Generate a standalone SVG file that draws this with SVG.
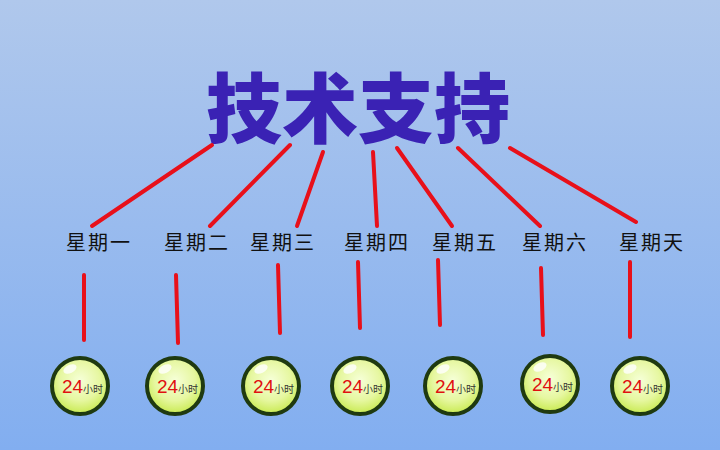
<svg xmlns="http://www.w3.org/2000/svg" width="720" height="450" viewBox="0 0 720 450">
<defs>
<linearGradient id="bg" x1="0" y1="0" x2="0" y2="1"><stop offset="0" stop-color="#b0c8ec"/><stop offset="1" stop-color="#82aef0"/></linearGradient>
<radialGradient id="ball" cx="0.5" cy="0.4" r="0.6"><stop offset="0" stop-color="#f6ffd8"/><stop offset="0.6" stop-color="#e6f7a0"/><stop offset="1" stop-color="#c8ea50"/></radialGradient>
<style>
.ln{stroke:#e8101a;stroke-width:4;stroke-linecap:round;fill:none}
.day{font-family:"Noto Sans CJK SC",sans-serif;font-size:20px;fill:#111;text-anchor:middle;letter-spacing:2px}
.b circle.o{fill:url(#ball);stroke:#1f3a10;stroke-width:4}
.n{font-family:"Liberation Sans",sans-serif;font-size:19px;fill:#e01010}
.h{font-family:"Noto Sans CJK SC",sans-serif;font-size:10px;fill:#333}
</style>
</defs>
<rect width="720" height="450" fill="url(#bg)"/>
<g id="title"><text x="358" y="137" text-anchor="middle" font-family="Noto Sans CJK SC,sans-serif" font-weight="900" font-size="76" fill="#3a22b4">技术支持</text></g>
<g id="connectors">
<line class="ln" x1="212" y1="145" x2="92" y2="226"/>
<line class="ln" x1="290" y1="145" x2="210" y2="226"/>
<line class="ln" x1="323" y1="152" x2="297" y2="226"/>
<line class="ln" x1="373" y1="152" x2="377" y2="226"/>
<line class="ln" x1="397" y1="148" x2="452" y2="226"/>
<line class="ln" x1="458" y1="148" x2="540" y2="226"/>
<line class="ln" x1="510" y1="148" x2="636" y2="222"/>
<line class="ln" x1="84" y1="275" x2="84" y2="340"/>
<line class="ln" x1="176" y1="275" x2="178" y2="343"/>
<line class="ln" x1="278" y1="265" x2="280" y2="333"/>
<line class="ln" x1="358" y1="262" x2="360" y2="328"/>
<line class="ln" x1="438" y1="260" x2="440" y2="325"/>
<line class="ln" x1="541" y1="268" x2="543" y2="335"/>
<line class="ln" x1="630" y1="262" x2="630" y2="337"/>
</g>
<g id="days">
<text class="day" x="99" y="250">星期一</text>
<text class="day" x="197" y="250">星期二</text>
<text class="day" x="283" y="250">星期三</text>
<text class="day" x="377" y="250">星期四</text>
<text class="day" x="465" y="250">星期五</text>
<text class="day" x="555" y="250">星期六</text>
<text class="day" x="652" y="250">星期天</text>
</g>
<g id="ball1" class="b" transform="translate(80,386)"><circle class="o" r="28"/><ellipse cx="-10" cy="-17" rx="7" ry="4" fill="#fff" opacity="0.8" transform="rotate(-25 -10 -17)"/><text class="n" x="-18" y="7">24</text><text class="h" x="3" y="7">小时</text></g>
<g id="ball2" class="b" transform="translate(175,386)"><circle class="o" r="28"/><ellipse cx="-10" cy="-17" rx="7" ry="4" fill="#fff" opacity="0.8" transform="rotate(-25 -10 -17)"/><text class="n" x="-18" y="7">24</text><text class="h" x="3" y="7">小时</text></g>
<g id="ball3" class="b" transform="translate(271,386)"><circle class="o" r="28"/><ellipse cx="-10" cy="-17" rx="7" ry="4" fill="#fff" opacity="0.8" transform="rotate(-25 -10 -17)"/><text class="n" x="-18" y="7">24</text><text class="h" x="3" y="7">小时</text></g>
<g id="ball4" class="b" transform="translate(360,386)"><circle class="o" r="28"/><ellipse cx="-10" cy="-17" rx="7" ry="4" fill="#fff" opacity="0.8" transform="rotate(-25 -10 -17)"/><text class="n" x="-18" y="7">24</text><text class="h" x="3" y="7">小时</text></g>
<g id="ball5" class="b" transform="translate(453,386)"><circle class="o" r="28"/><ellipse cx="-10" cy="-17" rx="7" ry="4" fill="#fff" opacity="0.8" transform="rotate(-25 -10 -17)"/><text class="n" x="-18" y="7">24</text><text class="h" x="3" y="7">小时</text></g>
<g id="ball6" class="b" transform="translate(550,384)"><circle class="o" r="28"/><ellipse cx="-10" cy="-17" rx="7" ry="4" fill="#fff" opacity="0.8" transform="rotate(-25 -10 -17)"/><text class="n" x="-18" y="7">24</text><text class="h" x="3" y="7">小时</text></g>
<g id="ball7" class="b" transform="translate(640,386)"><circle class="o" r="28"/><ellipse cx="-10" cy="-17" rx="7" ry="4" fill="#fff" opacity="0.8" transform="rotate(-25 -10 -17)"/><text class="n" x="-18" y="7">24</text><text class="h" x="3" y="7">小时</text></g>
</svg>
